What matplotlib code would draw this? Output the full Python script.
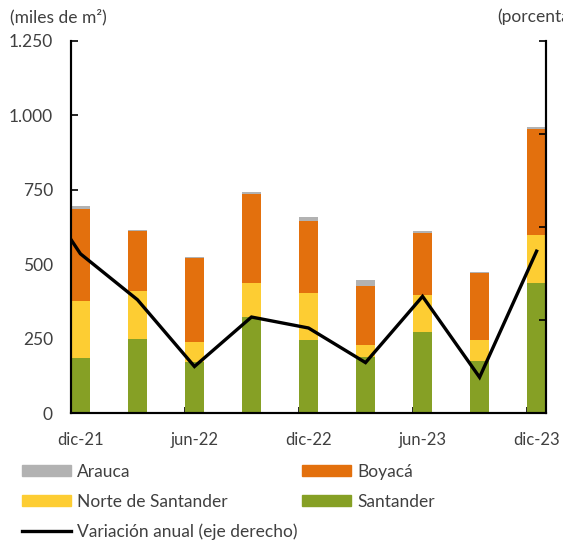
import numpy as np
import matplotlib.pyplot as plt
from matplotlib.patches import Patch
from matplotlib.lines import Line2D

plt.rcParams['font.family'] = ['Lato', 'DejaVu Sans']

periodos = ["dic-21", "mar-22", "jun-22", "sep-22", "dic-22",
            "mar-23", "jun-23", "sep-23", "dic-23"]
santander = [185, 250, 170, 324, 245, 187, 271, 176, 438]
norte = [190, 160, 70, 114, 158, 41, 125, 69, 160]
boyaca = [310, 202, 281, 298, 242, 199, 210, 224, 355]
arauca = [10, 4, 4, 7, 12, 20, 4, 5, 7]
# variación anual (eje derecho), incluye sep-21 que queda fuera del área
var_periodos = ["sep-21"] + periodos
var_anual = [31.8, -14.4, -39.1, -75.0, -48.4, -54.3, -72.9, -37.3, -80.8, -13.0]
etiquetas_x = ["dic-21", "jun-22", "dic-22", "jun-23", "dic-23"]

c_arauca = '#b2b2b2'
c_boyaca = '#e3700d'
c_norte = '#fdcd33'
c_santander = '#86a025'
gris = '#404040'

fig = plt.figure(figsize=(5.63, 5.46), dpi=100)
ax = fig.add_axes([71/563, 133/546, 475/563, 372/546])
ax2 = ax.twinx()

x = np.arange(len(periodos))
w = 0.33
s = np.array(santander)
n = np.array(norte)
b = np.array(boyaca)
a = np.array(arauca)
ax.bar(x, s, w, color=c_santander, zorder=2)
ax.bar(x, n, w, bottom=s, color=c_norte, zorder=2)
ax.bar(x, b, w, bottom=s + n, color=c_boyaca, zorder=2)
ax.bar(x, a, w, bottom=s + n + b, color=c_arauca, zorder=2)

xv = np.arange(len(var_periodos)) - 1
ax2.plot(xv, var_anual, color='black', linewidth=2.4, solid_joinstyle='miter')

ax.set_xlim(-w / 2, len(periodos) - 1 + w / 2)
ax.set_ylim(0, 1250)
ax.set_yticks([0, 250, 500, 750, 1000, 1250])
ax.set_yticklabels(["0", "250", "500", "750", "1.000", "1.250"])
ax2.set_ylim(-100, 100)
ax2.set_yticks([-100, -50, 0, 50, 100])
ax2.set_yticklabels([])

pos = [periodos.index(p) for p in etiquetas_x]
ax.set_xticks(pos)
ax.set_xticklabels(etiquetas_x)
ax.set_xticks([p - w / 2 for p in pos[1:]], minor=True)
ax.tick_params(axis='x', which='major', length=0, pad=14, labelsize=12, labelcolor=gris)
ax.tick_params(axis='x', which='minor', direction='in', length=4, width=1.2)
ax.tick_params(axis='y', direction='in', length=5, width=1.2, labelsize=12.5,
               labelcolor=gris, pad=13)
ax2.tick_params(axis='y', direction='in', length=5, width=1.2)

ax.spines['top'].set_visible(False)
ax2.spines['top'].set_visible(False)
for sp in ['left', 'right', 'bottom']:
    ax.spines[sp].set_linewidth(1.5)
    ax2.spines[sp].set_linewidth(1.5)

fig.text(10/563, 1 - 17/546, "(miles de m²)", fontsize=12.5, color=gris, va='center', ha='left')
fig.text(497/563, 1 - 17/546, "(porcentaje)", fontsize=12.5, color=gris, va='center', ha='left')

handles = [Patch(color=c_arauca), Patch(color=c_norte),
           Line2D([], [], color='black', linewidth=2.4),
           Patch(color=c_boyaca), Patch(color=c_santander)]
labels = ["Arauca", "Norte de Santander", "Variación anual (eje derecho)",
          "Boyacá", "Santander"]
fig.legend(handles, labels, ncol=2, loc='upper left',
           bbox_to_anchor=(8/563, 1 - 450/546), frameon=False,
           fontsize=12.5, labelcolor=gris, handlelength=2.8, handleheight=0.6,
           handletextpad=0.35, labelspacing=0.8, columnspacing=0.3,
           borderpad=0.3)

fig.savefig("out.png", dpi=100)
